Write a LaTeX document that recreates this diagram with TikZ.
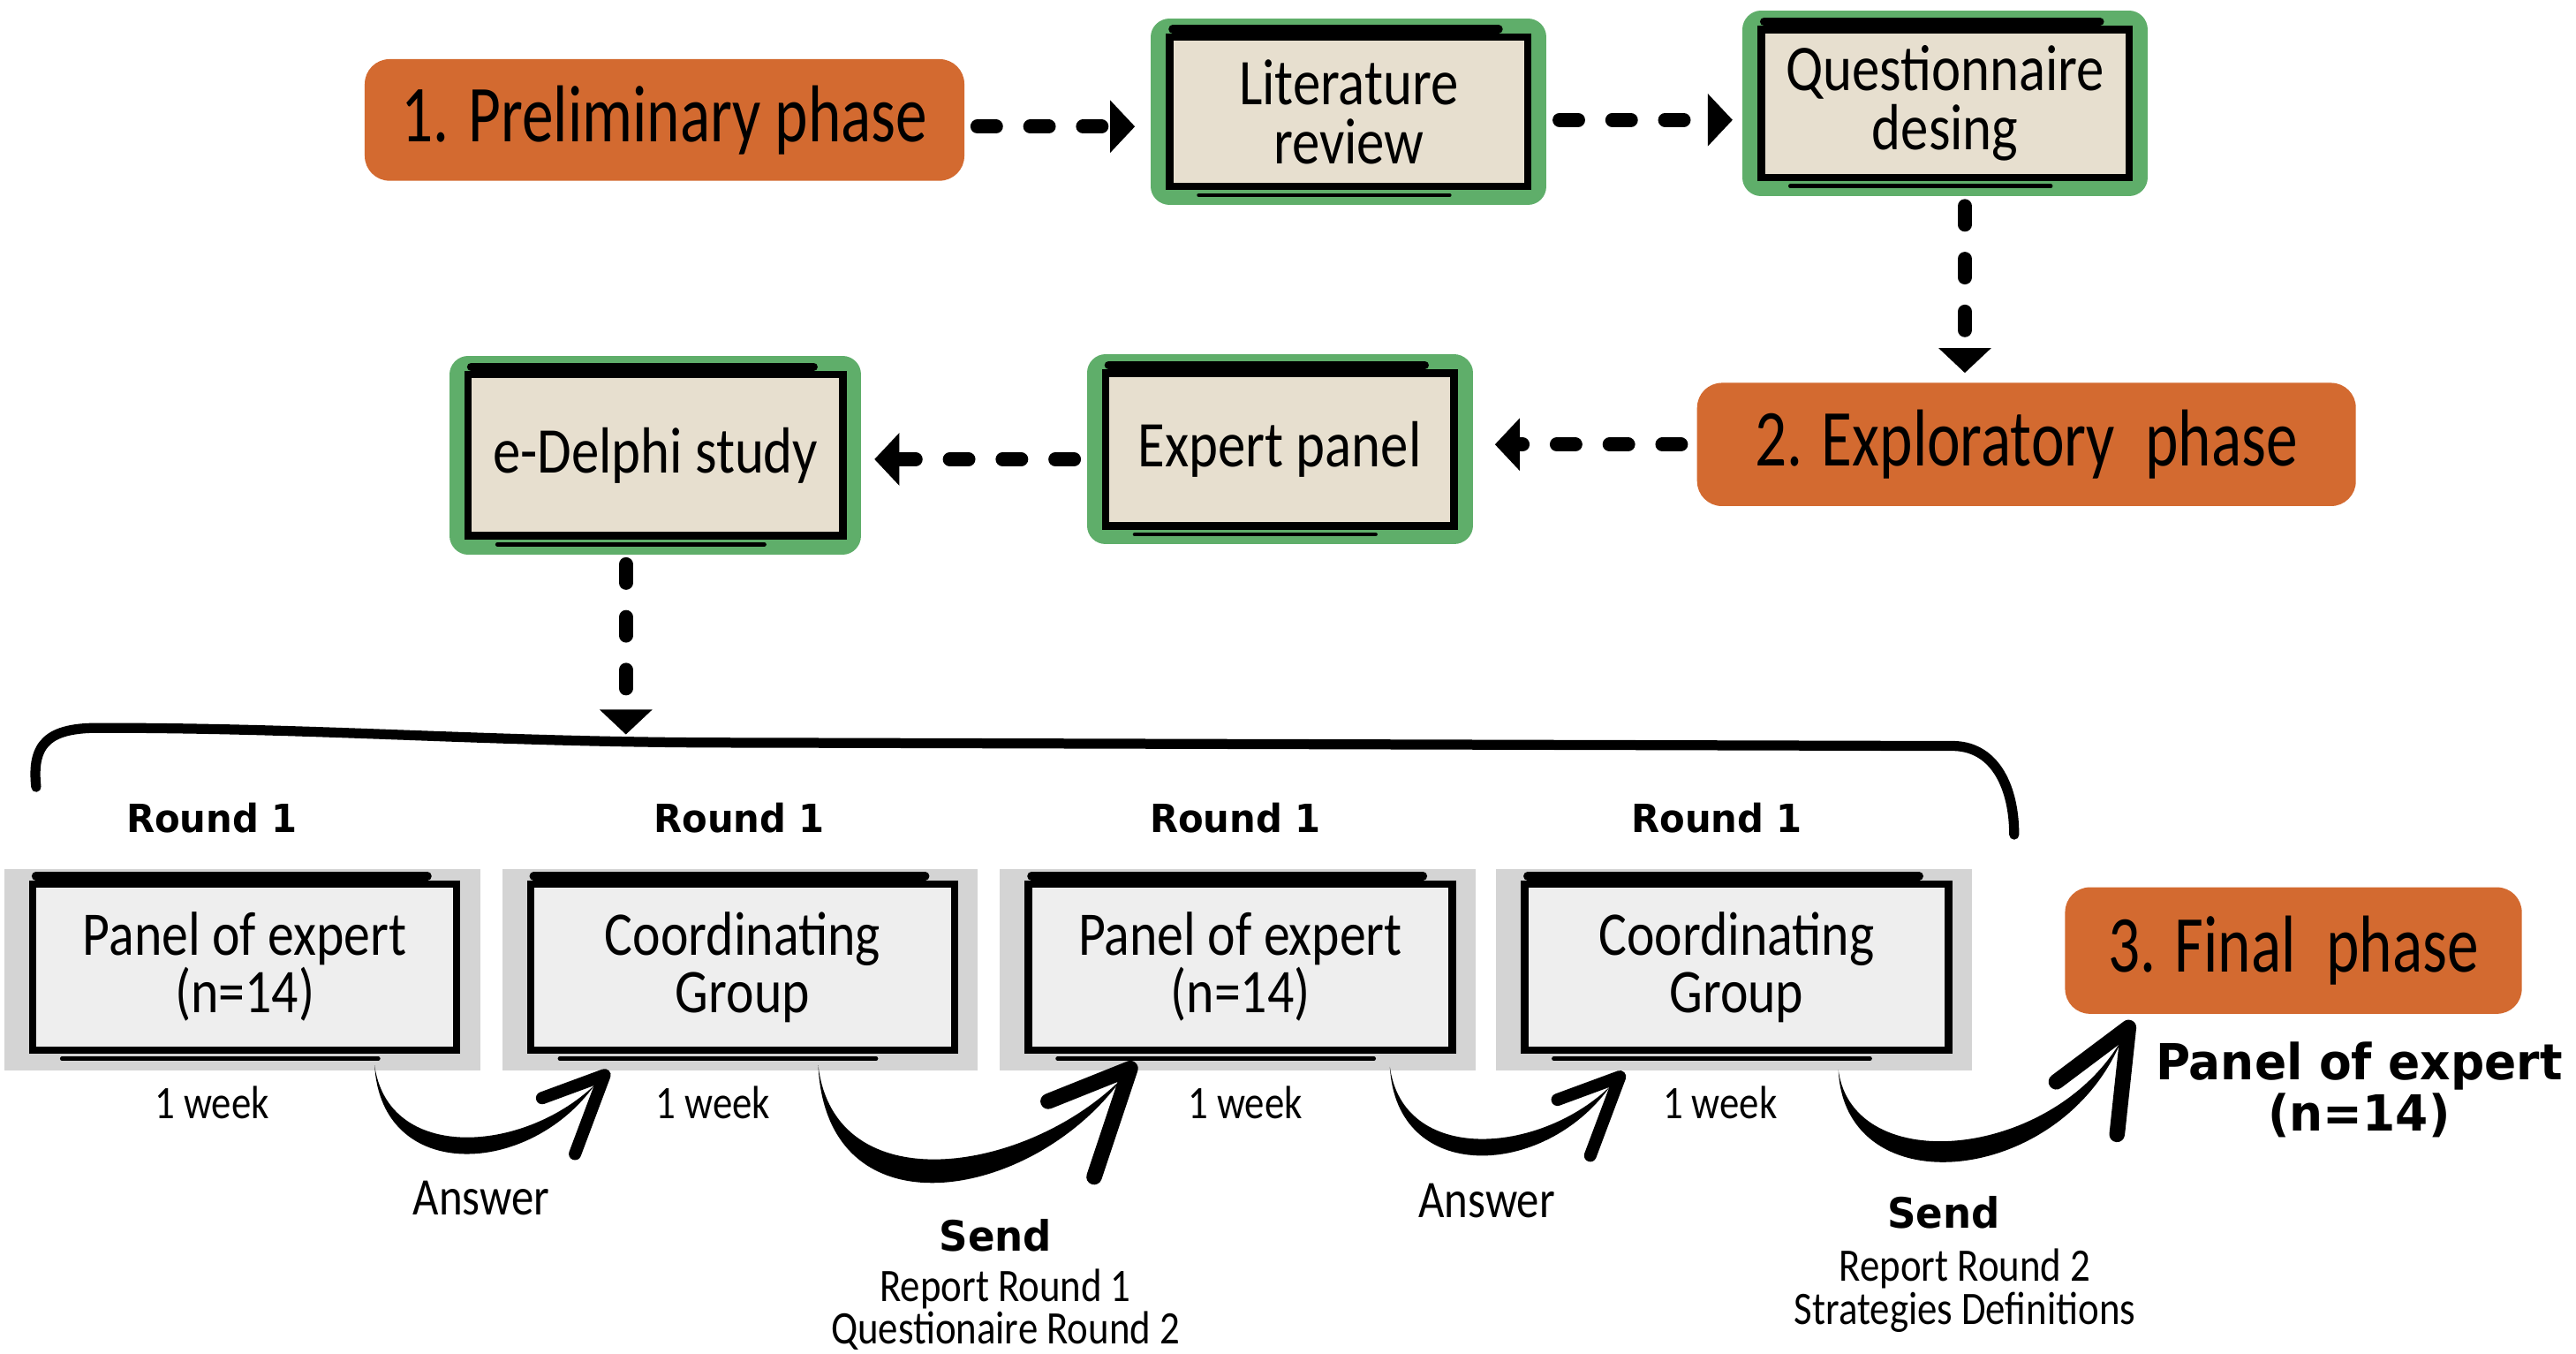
\documentclass[tikz,border=0pt]{standalone}
\usepackage{fontspec}
\setmainfont{Carlito}
\newfontfamily\hand[FakeStretch=0.85]{Carlito}
\newfontfamily\phfont[FakeStretch=0.78]{Carlito}
\newfontfamily\bfnt[FakeStretch=0.95]{DejaVu Sans}
\usetikzlibrary{arrows.meta,backgrounds}
\definecolor{orng}{RGB}{211,106,48}
\definecolor{grn}{RGB}{95,174,106}
\definecolor{beige}{RGB}{231,223,207}
\definecolor{gout}{RGB}{212,212,212}
\definecolor{gin}{RGB}{238,238,238}
\def\U{0.018603cm}
\begin{document}
\begin{tikzpicture}[x=0.018603cm, y=-0.018603cm,
  phase/.style={fill=orng, rounded corners=8pt, inner sep=0pt, text=black,
    font=\phfont\fontsize{26}{26}\selectfont},
  gbox/.style={fill=beige, draw=black, line width=2.4pt, inner sep=0pt, align=center,
    font=\hand\fontsize{21}{19}\selectfont,
    preaction={draw=grn, line width=12pt, line join=round}},
  lbox/.style={fill=gin, draw=black, line width=2.4pt, inner sep=0pt, align=center,
    font=\hand\fontsize{20}{18.5}\selectfont,
    minimum width=258*\U, minimum height=101*\U},
  rnd/.style={font=\bfnt\bfseries\fontsize{12.5}{14}\selectfont},
  sendlbl/.style={font=\bfnt\bfseries\fontsize{13.5}{14}\selectfont},
  wk/.style={font=\hand\fontsize{15}{14}\selectfont},
  ans/.style={font=\hand\fontsize{17}{16}\selectfont},
  note/.style={font=\hand\fontsize{15}{13.8}\selectfont, align=center},
  darr/.style={line width=4.5pt, line cap=round, dash pattern=on 6pt off 11pt,
    -{Triangle[length=8pt,width=16.5pt]}},
  brush/.style={fill=black},
  barbA/.style={line width=4pt, line cap=round, line join=round},
  barbS/.style={line width=5pt, line cap=round, line join=round},
  sketch/.style={line cap=round}
]
\useasboundingbox (0,0) rectangle (1568,824);

% top row
\node[phase, minimum width=365*\U, minimum height=74*\U] (pre) at (404.5,73) {1. Preliminary phase};
\node[gbox, minimum width=218*\U, minimum height=91*\U] (lit) at (821,68) {Literature\\review};
\node[gbox, minimum width=224*\U, minimum height=90*\U] (que) at (1184,63) {Questionnaire\\desing};

% second row
\node[phase, minimum width=401*\U, minimum height=75*\U] (exp) at (1233.5,270.5) {2. Exploratory\hspace{0.2em} phase};
\node[gbox, minimum width=212*\U, minimum height=93*\U] (pan) at (779,273.5) {Expert panel};
\node[gbox, minimum width=228*\U, minimum height=98*\U] (del) at (399,277) {e-Delphi study};

% bracket
\draw[line width=3.2pt, line cap=round] (22,479) .. controls (19,452) and (30,443) .. (60,443)
  .. controls (200,443) and (300,452) .. (450,452) -- (1190,454)
  .. controls (1215,455) and (1226,480) .. (1226,508);
\coordinate (brk) at (381,447);

% round labels
\node[rnd] (r1) at (129,498) {Round 1};
\node[rnd] (r2) at (450,498) {Round 1};
\node[rnd] (r3) at (752,498) {Round 1};
\node[rnd] (r4) at (1045,498) {Round 1};

% lower boxes
\node[lbox] (p1) at (149,588.5) {Panel of expert\\(n=14)};
\node[lbox] (c1) at (452,588.5) {Coordinating\\Group};
\node[lbox] (p2) at (755,588.5) {Panel of expert\\(n=14)};
\node[lbox] (c2) at (1057,588.5) {Coordinating\\Group};

\node[wk] (w1) at (129,671) {1 week};
\node[wk] (w2) at (434,671) {1 week};
\node[wk] (w3) at (758,671) {1 week};
\node[wk] (w4) at (1047,671) {1 week};

% final
\node[phase, minimum width=278*\U, minimum height=77*\U] (fin) at (1396,578.5) {3. Final\hspace{0.2em} phase};
\node[align=center, font=\bfnt\bfseries\fontsize{16}{14}\selectfont] (pe) at (1436,663) {Panel of expert\\(n=14)};

% labels under arrows
\node[ans] (an1) at (293,729) {Answer};
\node[ans] (an2) at (905,731) {Answer};
\node[sendlbl] (sd1) at (606,752) {Send};
\node[sendlbl] (sd2) at (1183,738) {Send};
\node[note] (nt1) at (612,797) {Report Round 1\\Questionaire Round 2};
\node[note] (nt2) at (1196,785.5) {Report Round 2\\Strategies Definitions};

% sketchy extra strokes
\foreach \n in {lit,que,pan,del,p1,c1,p2,c2}{
  \draw[sketch, line width=2.6pt] ([shift={(4,-2.5)}]\n.north west) -- ([shift={(-20,-2.5)}]\n.north east);
  \draw[sketch, line width=1.3pt] ([shift={(20,3)}]\n.south west) -- ([shift={(-50,3)}]\n.south east);
}

% dotted connectors
\draw[darr, shorten <=4pt, shorten >=10pt] ([shift={(0,4)}]pre.east) -- ([shift={(0,4)}]pre.east -| lit.west);
\draw[darr, shorten <=9pt, shorten >=8pt] ([shift={(0,5)}]lit.east) -- ([shift={(0,5)}]lit.east -| que.west);
\draw[darr, shorten <=8pt, shorten >=3pt] ([shift={(12,0)}]que.south) -- ([shift={(12,0)}]que.south |- exp.north);
\draw[darr, shorten <=5pt, shorten >=12pt] (exp.west) -- (exp.west -| pan.east);
\draw[darr, shorten <=9pt, shorten >=9pt] ([shift={(0,6)}]pan.west) -- ([shift={(0,6)}]pan.west -| del.east);
\draw[darr, shorten <=8pt] ([shift={(-18,0)}]del.south) -- (brk);

% brush arrows
\coordinate (a1s) at ([shift={(79,7)}]p1.south);
\coordinate (a1t) at ([shift={(-84,13)}]c1.south);
\coordinate (a1e) at ([shift={(-6,6)}]a1t);
\fill[brush] (a1s) .. controls +(8,59) and +(-44,42) .. (a1e) .. controls +(-40,56) and +(4,72) .. (a1s) -- cycle;
\draw[barbA] ([shift={(-38,14)}]a1t) -- (a1t) -- ([shift={(-18,48)}]a1t);

\coordinate (s1s) at ([shift={(46,7)}]c1.south);
\coordinate (s1t) at ([shift={(-67,9)}]p2.south);
\coordinate (s1e) at ([shift={(-5,6)}]s1t);
\fill[brush] (s1s) .. controls +(10,84) and +(-58,58) .. (s1e) .. controls +(-53,74) and +(5,106) .. (s1s) -- cycle;
\draw[barbS] ([shift={(-50,20)}]s1t) -- (s1t) -- ([shift={(-22,66)}]s1t);

\coordinate (a2s) at ([shift={(91,8)}]p2.south);
\coordinate (a2t) at ([shift={(-71,14)}]c2.south);
\coordinate (a2e) at ([shift={(-6,6)}]a2t);
\fill[brush] (a2s) .. controls +(8,59) and +(-44,42) .. (a2e) .. controls +(-40,56) and +(4,72) .. (a2s) -- cycle;
\draw[barbA] ([shift={(-38,14)}]a2t) -- (a2t) -- ([shift={(-18,48)}]a2t);

\coordinate (s2s) at ([shift={(62,10)}]c2.south);
\coordinate (s2t) at ([shift={(39,8)}]fin.south west);
\coordinate (s2e) at ([shift={(-4,7)}]s2t);
\fill[brush] (s2s) .. controls +(9,66) and +(-42,73) .. (s2e) .. controls +(-36,89) and +(4,84) .. (s2s) -- cycle;
\draw[barbS] ([shift={(-44,33)}]s2t) -- (s2t) -- ([shift={(-7,65)}]s2t);

% backgrounds
\begin{scope}[on background layer]
  \fill[white] (0,0) rectangle (1568,824);
  \foreach \n in {p1,c1,p2,c2}
    \fill[gout] ([shift={(-15,-7)}]\n.north west) rectangle ([shift={(12,10)}]\n.south east);
\end{scope}
\end{tikzpicture}
\end{document}
